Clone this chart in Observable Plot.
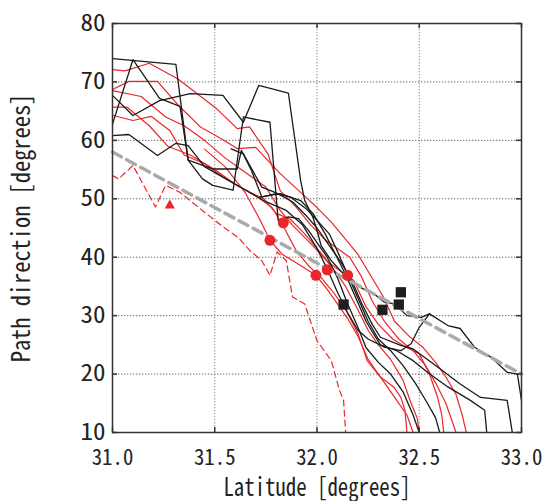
<!DOCTYPE html>
<html><head><meta charset="utf-8">
<script src="https://cdn.jsdelivr.net/npm/d3@7"></script>
<script src="https://cdn.jsdelivr.net/npm/@observablehq/plot@0.6"></script>
<style>body{margin:0;background:#fff;} #chart svg{display:block;}</style>
</head><body><div id="chart"></div>
<script>
// ---- axis ticks ----
const xTicks = [31.0, 31.5, 32.0, 32.5, 33.0];
const yTicks = [10, 20, 30, 40, 50, 60, 70, 80];
const xTickLabels = ["31.0", "31.5", "32.0", "32.5", "33.0"];
const xTitle = "Latitude [degrees]";
const yTitle = "Path direction [degrees]";

// ---- black tracks [latitude, direction] ----
const black1 = [[31.0,74.0],[31.31,73.0],[31.37,56.6],[31.49,55.1],[31.61,55.1],[31.63,58.3],[31.68,54.8],[31.73,50.3],[31.80,50.9],[31.87,50.3],[31.95,48.2],[32.0,46.3],[32.06,44],[32.1,41],[32.15,37],[32.2,33],[32.25,29],[32.3,26],[32.36,24],[32.42,21.5],[32.48,18.5],[32.54,15],[32.58,12.5],[32.6,10]];
const black2 = [[31.0,62.8],[31.1,73.8],[31.23,67.2],[31.33,65.8],[31.37,56.6],[31.44,53.4],[31.49,52.3],[31.59,51.5],[31.64,64.0],[31.77,63.1],[31.81,46.3],[31.86,46.9],[31.91,46.6],[31.96,44.5],[32.0,42.5],[32.05,40],[32.1,36.5],[32.15,32],[32.2,28],[32.24,24.5],[32.3,22],[32.36,20],[32.42,17],[32.47,13],[32.5,10]];
const black3 = [[31.0,67.7],[31.10,64.25],[31.23,66.8],[31.38,68.0],[31.54,67.7],[31.64,63.1],[31.715,69.4],[31.86,68.1],[31.92,53.1],[31.94,49.7],[31.98,46.85],[32.0,44.6],[32.02,42],[32.07,39.4],[32.12,37.5],[32.18,35.5],[32.23,34.5],[32.28,33.7],[32.33,32.3],[32.38,32.0],[32.44,30],[32.51,29.7],[32.55,30.3],[32.64,28.3],[32.70,27.8],[32.77,24.6],[32.85,22.9],[32.93,20.3],[32.98,20.0],[33.0,15.5],[33.02,10]];
const black4 = [[31.0,60.8],[31.08,61.0],[31.22,57.4],[31.31,59.5],[31.37,59.1],[31.45,55.5],[31.55,53.5],[31.65,51.5],[31.75,49.5],[31.85,48],[31.93,45.5],[32.0,41.5],[32.05,38],[32.1,34],[32.15,30.5],[32.2,27.5],[32.25,26],[32.33,24.6],[32.41,24.0],[32.46,25.2],[32.50,28],[32.55,30.3]];
const black5 = [[31.58,58.55],[31.64,57.7],[31.73,52],[31.8,51],[31.88,49.5],[31.95,47],[32.0,45],[32.06,42],[32.12,39],[32.17,36],[32.22,32],[32.27,28.5],[32.31,26.3],[32.41,24.9],[32.47,24.3],[32.59,21.2],[32.70,18.3],[32.80,16.0],[32.93,15.5],[32.955,10]];
const black6 = [[31.72,50.3],[31.82,50.9],[31.92,49.7],[31.98,47.5],[32.04,44],[32.09,40.5],[32.14,37],[32.19,33],[32.24,29],[32.31,25],[32.39,24.0],[32.47,22.3],[32.54,20.3],[32.64,17.8],[32.75,15.5],[32.82,13.8],[32.83,10]];

// ---- red solid tracks ----
const red1 = [[31.0,72.1],[31.06,71.9],[31.18,73.2],[31.32,70.5],[31.51,65.4],[31.61,62.0],[31.67,62.3],[31.76,57.7],[31.82,51.4],[31.9,48.5],[31.97,45.5],[32.04,43],[32.1,41.5],[32.16,40],[32.22,36.5],[32.27,32.5],[32.33,29],[32.4,26],[32.47,24],[32.53,21.5],[32.58,18.5],[32.63,15],[32.66,12],[32.68,10]];
const red2 = [[31.0,68.7],[31.08,70.1],[31.22,70.1],[31.33,65.7],[31.43,62.3],[31.53,60.3],[31.61,58.6],[31.70,58.8],[31.82,54.3],[31.92,51.1],[32.0,48.5],[32.07,46],[32.13,43.5],[32.2,40.5],[32.26,37],[32.32,33.5],[32.38,29],[32.45,26.5],[32.52,24.5],[32.58,22],[32.63,19.5],[32.68,16.5],[32.71,13],[32.73,10]];
const red3 = [[31.0,68.5],[31.14,67.5],[31.26,64.0],[31.35,62.5],[31.45,60.0],[31.55,57.0],[31.65,54.5],[31.75,52],[31.82,48],[31.88,45.5],[31.95,43],[32.02,40.5],[32.08,38],[32.14,35],[32.2,31],[32.25,27.5],[32.3,25],[32.36,22.5],[32.42,19],[32.46,15],[32.49,12.5],[32.5,10]];
const red4 = [[31.0,65.7],[31.07,65.7],[31.18,62.5],[31.27,59.0],[31.38,57.5],[31.5,55.0],[31.6,52.5],[31.7,50.5],[31.78,48.5],[31.84,45],[31.9,41],[31.96,38.5],[32.02,36.5],[32.08,34],[32.14,31],[32.2,27],[32.245,22.3],[32.31,19.5],[32.375,17.8],[32.41,16.0],[32.43,13.8],[32.44,10]];
const red5 = [[31.0,64.3],[31.10,63.4],[31.19,64.1],[31.28,61.7],[31.35,57.5],[31.45,56.0],[31.55,53.5],[31.65,51.5],[31.74,50],[31.8,47.5],[31.87,46.5],[31.94,44],[32.0,41.5],[32.06,39],[32.12,37.5],[32.18,36],[32.24,31.5],[32.3,28.5],[32.37,26],[32.44,24.5],[32.5,23.5],[32.55,20],[32.59,16],[32.61,13],[32.62,10]];
const red6 = [[31.45,58.5],[31.55,55.5],[31.65,51],[31.72,46.5],[31.77,42.9],[31.83,40.5],[31.9,39],[31.995,36.9],[32.05,34.5],[32.1,32],[32.15,29.5],[32.2,26.5],[32.25,22.5],[32.3,20],[32.35,17.5],[32.4,15],[32.44,13],[32.47,10]];

// ---- red dashed track ----
const redDashed = [[31.0,54.0],[31.03,53.4],[31.10,55.7],[31.21,48.6],[31.26,52.3],[31.33,51.1],[31.45,47.7],[31.53,45.5],[31.62,43.2],[31.67,41.2],[31.73,39.4],[31.77,36.9],[31.805,40.9],[31.85,39.4],[31.88,33.2],[31.94,32.0],[32.0,25.7],[32.07,22.3],[32.11,17.2],[32.13,15.5],[32.14,10]];

// ---- gray dashed trend ----
const trendLat = [31.0, 33.0];
const trendDir = [58.0, 20.0];

// ---- markers ----
const circleLat = [31.77, 31.835, 31.995, 32.05, 32.15];
const circleDir = [42.9, 45.9, 36.9, 37.85, 36.9];
const squareLat = [32.13, 32.32, 32.40, 32.41];
const squareDir = [31.9, 31.0, 31.9, 34.0];
const triangleLat = [31.28];
const triangleDir = [48.85];

const RED = "#e8262b";
const toRows = (tracks) => tracks.flatMap((t, i) => t.map(([lat, dir]) => ({lat, dir, id: i})));
const blackRows = toRows([black1, black2, black3, black4, black5, black6]);
const redRows = toRows([red1, red2, red3, red4, red5, red6]);
const dashRows = toRows([redDashed]);
const trendRows = trendLat.map((lat, i) => ({lat, dir: trendDir[i]}));
const pts = (la, di) => la.map((lat, i) => ({lat, dir: di[i]}));

const FONT = "'Noto Sans Mono CJK JP', 'DejaVu Sans Mono', 'Liberation Mono', monospace";
const W = 545, H = 501, ML = 112, MR = 24, MT = 23, MB = 69;
const FW = W - ML - MR, FH = H - MT - MB;

const chart = Plot.plot({
  width: W, height: H,
  marginLeft: ML, marginRight: MR, marginTop: MT, marginBottom: MB,
  x: {domain: [31, 33], ticks: xTicks, axis: null},
  y: {domain: [10, 80], ticks: yTicks, axis: null},
  marks: [
    Plot.ruleX(xTicks, {stroke: "#888", strokeDasharray: "1.3,1.7", strokeWidth: 1}),
    Plot.ruleY(yTicks, {stroke: "#666", strokeDasharray: "1.3,1.7", strokeWidth: 1}),
    Plot.line(redRows, {x: "lat", y: "dir", z: "id", stroke: RED, strokeWidth: 1.2, clip: true}),
    Plot.line(dashRows, {x: "lat", y: "dir", z: "id", stroke: RED, strokeWidth: 1.2, strokeDasharray: "6,4", clip: true}),
    Plot.line(blackRows, {x: "lat", y: "dir", z: "id", stroke: "#1a1a1a", strokeWidth: 1.3, clip: true}),
    Plot.line(trendRows, {x: "lat", y: "dir", stroke: "#aaa", strokeWidth: 3.5, strokeDasharray: "10,6"}),
    Plot.dot(pts(circleLat, circleDir), {x: "lat", y: "dir", r: 5.5, fill: RED, stroke: "none"}),
    Plot.dot(pts(triangleLat, triangleDir), {x: "lat", y: "dir", r: 3.8, symbol: "triangle", fill: RED, stroke: "none"}),
    Plot.dot(pts(squareLat, squareDir), {x: "lat", y: "dir", r: 5.8, symbol: "square", fill: "#1e1e1e", stroke: "none"}),
    // inward ticks on all sides
    Plot.ruleX(xTicks, {insetTop: FH - 5, stroke: "#333", strokeWidth: 1.5}),
    Plot.ruleX(xTicks, {insetBottom: FH - 5, stroke: "#333", strokeWidth: 1.5}),
    Plot.ruleY(yTicks, {insetRight: FW - 5, stroke: "#333", strokeWidth: 1.5}),
    Plot.ruleY(yTicks, {insetLeft: FW - 5, stroke: "#333", strokeWidth: 1.5}),
    Plot.frame({stroke: "#333", strokeWidth: 1.5}),
    Plot.axisX(xTicks, {tickSize: 0, tickPadding: 17, tickFormat: (d, i) => xTickLabels[i], fontSize: 21.5, fontFamily: FONT, fill: "#222", label: null}),
    Plot.axisY(yTicks, {tickSize: 0, tickPadding: 7, fontSize: 23, fontFamily: FONT, fill: "#222", label: null}),
    Plot.text([xTitle], {frameAnchor: "bottom", dy: 55, lineAnchor: "middle", textAnchor: "middle", fontSize: 25, fontFamily: FONT, fill: "#222"}),
    Plot.text([yTitle], {frameAnchor: "left", dx: -91, rotate: -90, lineAnchor: "middle", textAnchor: "middle", fontSize: 25, fontFamily: FONT, fill: "#222"})
  ]
});
document.getElementById("chart").appendChild(chart);

// condense text horizontally to match the narrow gothic lettering
function condense(nodes, advanceFor) {
  nodes.forEach(n => {
    const txt = n.textContent || "";
    const len = n.getComputedTextLength();
    if (!txt.length || !len) return;
    const s = (advanceFor(txt) * txt.length) / len;
    n.setAttribute("transform", (n.getAttribute("transform") || "") + ` scale(${s},1)`);
  });
}
const sel = (q) => d3.select(chart).selectAll(q).nodes();
condense(sel('g[aria-label="x-axis tick label"] text'), () => 10.4);
condense(sel('g[aria-label="y-axis tick label"] text'), () => 12.5);
condense(sel('g[aria-label="text"] text'), (t) => t === xTitle ? 10.4 : 11.2);
</script>
</body></html>
